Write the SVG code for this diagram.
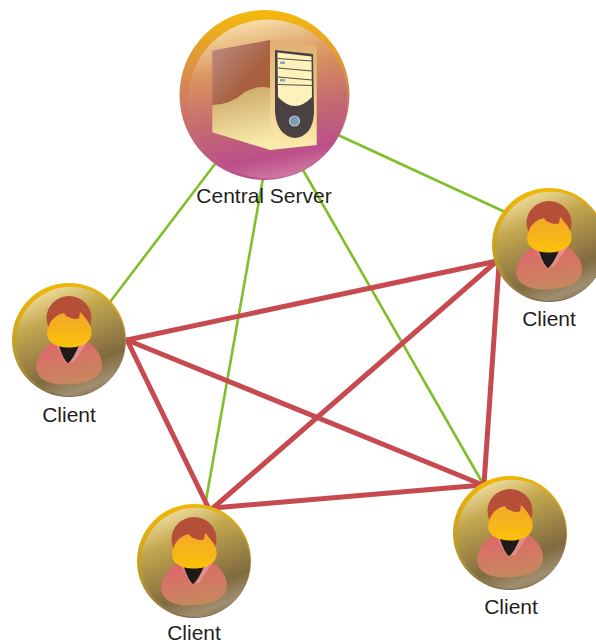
<svg xmlns="http://www.w3.org/2000/svg" xmlns:xlink="http://www.w3.org/1999/xlink" width="596" height="644" viewBox="0 0 596 644">
<style>
text{font-family:"Liberation Sans",Arial,sans-serif;font-size:21px;fill:#231f20;text-anchor:middle}
.g{stroke:#7fbf2a;stroke-width:2.6;fill:none}
.r{stroke:#c64a4f;stroke-width:5;fill:none;stroke-linecap:round}
</style>
<defs>
<linearGradient id="cr" x1="0.4" y1="0" x2="0.6" y2="1"><stop offset="0" stop-color="#f2b705"/><stop offset="0.55" stop-color="#b99a30"/><stop offset="1" stop-color="#7d6a50"/></linearGradient>
<linearGradient id="cf" x1="0.25" y1="0" x2="0.65" y2="1"><stop offset="0" stop-color="#f3e3a6"/><stop offset="0.28" stop-color="#c4a84f"/><stop offset="0.75" stop-color="#806a3f"/><stop offset="0.93" stop-color="#a08e70"/><stop offset="1" stop-color="#8f7d60"/></linearGradient>
<linearGradient id="bd" x1="0" y1="0" x2="0.3" y2="1"><stop offset="0" stop-color="#e0636a"/><stop offset="1" stop-color="#c8875f"/></linearGradient>
<linearGradient id="fc" x1="0" y1="0" x2="0" y2="1"><stop offset="0" stop-color="#f2a72a"/><stop offset="1" stop-color="#fcc10a"/></linearGradient>
<linearGradient id="sr" x1="0.5" y1="0" x2="0.5" y2="1"><stop offset="0" stop-color="#f5b90a"/><stop offset="0.5" stop-color="#d0805c"/><stop offset="1" stop-color="#b84f8c"/></linearGradient>
<linearGradient id="sf" x1="0.38" y1="0" x2="0.58" y2="1"><stop offset="0" stop-color="#f8e0a8"/><stop offset="0.3" stop-color="#d8935e"/><stop offset="0.6" stop-color="#c46a70"/><stop offset="0.86" stop-color="#bb4f8a"/><stop offset="1" stop-color="#d07aa0"/></linearGradient>
<linearGradient id="sl" x1="0" y1="0" x2="0.6" y2="0.6"><stop offset="0" stop-color="#bb8f88"/><stop offset="1" stop-color="#a9603f"/></linearGradient>
<linearGradient id="sw" x1="0" y1="0" x2="0.2" y2="1"><stop offset="0" stop-color="#c9a265"/><stop offset="1" stop-color="#f8eaa8"/></linearGradient>
<linearGradient id="ss" x1="0" y1="0" x2="0" y2="1"><stop offset="0" stop-color="#e0b070"/><stop offset="0.6" stop-color="#efd08c"/><stop offset="1" stop-color="#fbeeb0"/></linearGradient>
<g id="person">
<circle r="57" fill="url(#cr)"/>
<circle cx="1.700" cy="1.300" r="54.500" fill="url(#cf)"/>
<path d="M-18,3 Q-33,14 -33,28 Q-31,44 -5,44.500 Q33,44 33,24 Q33,12 18,1 Z" fill="url(#bd)"/>
<path d="M-14,2 L-4,22 L5,22 L19,1 L14,-4 L-12,-4 Z" fill="#e08f8c"/>
<path d="M-11,3 Q-6,20 -1,23 Q4,20 11,3 L4,0 L-6,0 Z" fill="#1d1a18"/>
<ellipse cx="0" cy="-22" rx="22.500" ry="22" fill="#b64f38"/>
<path d="M-21.500,-10 Q-19,-21 -10,-25.500 L-5,-27 Q-3,-23 0,-23 Q3,-21 6,-21 L10,-21.500 L11,-28 Q13,-27 15,-23.500 Q21,-17 22.500,-10 C24,2 13,7.500 0,7.500 C-13,7.500 -24,2 -21.500,-10 Z" fill="url(#fc)"/>
</g>
</defs>
<g id="connectors">
<line class="g" x1="218" y1="160" x2="110" y2="302"/>
<line class="g" x1="263" y1="178" x2="205" y2="506"/>
<line class="g" x1="303" y1="170" x2="482" y2="482"/>
<line class="g" x1="338" y1="135" x2="505" y2="212"/>
<line class="r" x1="127" y1="340" x2="497" y2="261"/>
<line class="r" x1="127" y1="340" x2="483" y2="485"/>
<line class="r" x1="127" y1="340" x2="208" y2="507"/>
<line class="r" x1="497" y1="261" x2="213" y2="508"/>
<line class="r" x1="499" y1="265" x2="484" y2="484"/>
<line class="r" x1="213" y1="508" x2="483" y2="485"/>
</g>
<g id="server">
<circle cx="264.500" cy="95" r="85" fill="url(#sr)"/>
<circle cx="268" cy="99" r="79.500" fill="url(#sf)"/>
<path d="M212.300,50.700 L270,40 L270,90 L212.300,110 Z" fill="url(#sl)"/>
<path d="M212.300,105 Q230,105 245,92 Q257,85 270,88 L270,150 L212.300,132.300 Z" fill="url(#sw)"/>
<path d="M270,40 L316.700,45.700 L316.700,145 L270,150 Z" fill="url(#ss)"/>
<path d="M275,50 L313,54 L314,112 Q313,136 295,138 Q277,136 275,112 Z" fill="#4a4242"/>
<path d="M277.500,52.500 L311.500,56.500 L312,97 Q295,115 278,97 Z" fill="#fdf2bb"/>
<path d="M278,58.500 L312,61 M278,68 L312,71 M278,77 L312,80 M278,84.500 L312,85.500" stroke="#5a5048" stroke-width="1.200" fill="none"/>
<path d="M280,61.500 h5 v2.500 h-5 Z M280,79 h5 v2.500 h-5 Z" fill="#7fa6c4"/>
<circle cx="294.500" cy="121" r="5" fill="#7d9cb8" stroke="#b8c4cc" stroke-width="1.200"/>
<text x="264" y="203">Central Server</text>
</g>
<g id="client-left"><use xlink:href="#person" href="#person" x="69" y="340"/><text x="69" y="422">Client</text></g>
<g id="client-right"><use xlink:href="#person" href="#person" x="549" y="245"/><text x="549" y="326">Client</text></g>
<g id="client-bottom"><use xlink:href="#person" href="#person" x="194" y="561"/><text x="194" y="640">Client</text></g>
<g id="client-bottom-right"><use xlink:href="#person" href="#person" x="510" y="533"/><text x="511" y="614">Client</text></g>
</svg>
